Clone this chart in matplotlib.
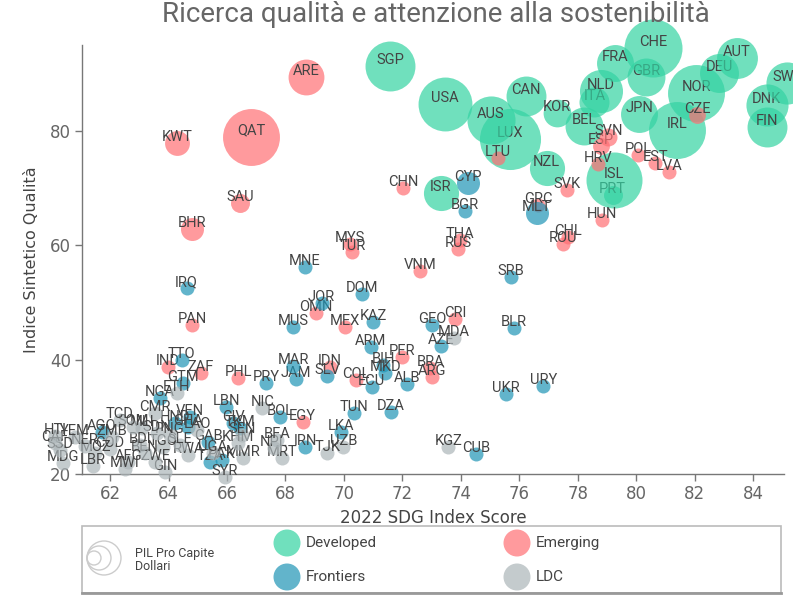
import matplotlib
matplotlib.use('Agg')
import matplotlib.pyplot as plt
from matplotlib.patches import Rectangle, Ellipse
import numpy as np

# ---------------- data ----------------
dev_codes = ['PRT', 'ISL', 'ITA', 'NLD', 'GBR', 'CHE', 'FRA', 'LUX', 'AUS', 'USA', 'CAN', 'SGP',
             'ISR', 'NZL', 'KOR', 'BEL', 'JPN', 'IRL', 'NOR', 'DEU', 'AUT', 'DNK', 'FIN', 'SWE']
dev_sdg = [79.2, 79.24, 78.57, 78.8, 80.34, 80.57, 79.28, 75.68, 75.03, 73.46, 76.23, 71.58,
           73.32, 76.94, 77.28, 78.22, 80.11, 81.41, 82.05, 82.85, 83.44, 84.47, 84.47, 85.16]
dev_quality = [68.8, 71.43, 85.12, 87.0, 89.39, 94.46, 91.84, 78.54, 81.92, 84.72, 86.12, 91.37,
               69.15, 73.47, 83.23, 80.87, 82.92, 80.17, 86.7, 90.2, 92.71, 84.54, 80.75, 88.39]
dev_gdp = [14, 122, 35, 72, 56, 131, 53, 145, 90, 113, 62, 97,
           48, 48, 30, 56, 53, 126, 126, 59, 65, 69, 62, 69]

emg_codes = ['ESP', 'SVN', 'CZE', 'HRV', 'POL', 'EST', 'LVA', 'SVK', 'HUN', 'LTU', 'GRC', 'CHL',
             'ROU', 'THA', 'RUS', 'CHN', 'VNM', 'MYS', 'TUR', 'CRI', 'OMN', 'MEX', 'PER', 'BRA',
             'ARG', 'COL', 'IDN', 'EGY', 'PHL', 'IND', 'ZAF', 'PAN', 'ARE', 'QAT', 'KWT', 'SAU', 'BHR']
emg_sdg = [78.8, 79.05, 82.09, 78.71, 80.07, 80.65, 81.13, 77.62, 78.82, 75.28, 76.64, 77.68,
           77.51, 73.97, 73.92, 72.03, 72.61, 70.21, 70.27, 73.8, 69.05, 70.04, 71.98, 72.95,
           73.03, 70.42, 69.53, 68.59, 66.39, 63.99, 65.1, 64.8, 68.71, 66.82, 64.28, 66.45, 64.82]
emg_quality = [77.37, 79.0, 82.8, 74.22, 75.8, 74.35, 72.88, 69.68, 64.43, 75.22, 67.05, 61.51,
               60.23, 60.93, 59.3, 70.08, 55.51, 60.23, 58.88, 47.06, 48.11, 45.77, 40.52, 38.49,
               37.02, 36.44, 38.77, 29.15, 36.74, 38.77, 37.61, 46.06, 89.5, 79.0, 77.95, 67.46, 62.85]
emg_gdp = [11, 12.6, 11, 7, 7, 7, 7, 7, 7, 7, 7, 7,
           7, 7, 7, 6, 6, 6, 6, 6, 6, 6, 6, 6,
           6, 6, 6, 6, 6, 6, 6, 6, 50, 126, 24, 14, 20.6]

frn_codes = ['CYP', 'MLT', 'BGR', 'SRB', 'BLR', 'GEO', 'MNE', 'DOM', 'JOR', 'MUS', 'KAZ', 'ARM',
             'BIH', 'MKD', 'ECU', 'ALB', 'AZE', 'UKR', 'URY', 'CUB', 'DZA', 'TUN', 'LKA', 'IRN',
             'BOL', 'JAM', 'MAR', 'SLV', 'PRY', 'IRQ', 'TTO', 'GTM', 'NGA', 'VEN', 'LBN', 'CIV',
             'TKM', 'AGO', 'HND', 'GHA', 'GAB', 'PAK', 'TZA']
frn_sdg = [74.26, 76.6, 74.15, 75.72, 75.82, 73.01, 68.67, 70.61, 69.24, 68.27, 71.01, 70.92,
           71.35, 71.41, 70.95, 72.17, 73.31, 75.54, 76.82, 74.52, 71.6, 70.35, 69.89, 68.67,
           67.82, 68.35, 68.27, 69.43, 67.34, 64.62, 64.45, 64.51, 63.71, 64.74, 65.97, 66.22,
           66.45, 61.72, 64.22, 64.67, 65.35, 65.83, 65.42]
frn_quality = [70.85, 65.6, 66.0, 54.51, 45.49, 46.06, 56.15, 51.49, 49.86, 45.77, 46.64, 42.27,
               39.07, 37.61, 35.27, 35.74, 42.44, 34.0, 35.39, 23.5, 30.9, 30.62, 27.4, 24.67,
               30.02, 36.62, 38.89, 37.14, 35.87, 52.48, 39.94, 35.87, 33.24, 30.02, 31.72, 28.87,
               28.0, 27.4, 28.9, 28.2, 25.6, 22.4, 22.15]
frn_gdp = [20.6, 20.6] + [7] * 41

ldc_codes = ['MDA', 'KGZ', 'UZB', 'TJK', 'NIC', 'MRT', 'NPL', 'BFA', 'MMR', 'SYR', 'ETH', 'CMR',
             'KHM', 'SEN', 'LAO', 'UGA', 'RWA', 'SLE', 'TGO', 'PNG', 'GIN', 'SDN', 'ZWE', 'BEN',
             'MLI', 'BDI', 'AFG', 'SOM', 'MWI', 'TCD', 'COD', 'ZMB', 'MOZ', 'LBR', 'NER', 'YEM',
             'MDG', 'SSD', 'CAF', 'HTI']
ldc_sdg = [73.77, 73.57, 69.98, 69.43, 67.21, 67.87, 67.61, 67.71, 66.56, 65.93, 64.28, 63.54,
           66.38, 66.52, 64.98, 65.52, 64.67, 64.4, 63.81, 64.05, 63.88, 63.61, 63.54, 63.2,
           63.09, 63.03, 62.62, 62.79, 62.51, 62.34, 62.0, 62.07, 61.49, 61.42, 61.14, 60.8,
           60.39, 60.29, 60.12, 60.12]
ldc_quality = [43.74, 24.78, 24.78, 23.62, 31.49, 22.75, 24.55, 25.95, 22.75, 19.5, 34.12, 30.67,
               25.4, 26.8, 27.7, 23.7, 23.3, 25.1, 24.7, 26.8, 20.35, 27.2, 22.1, 23.7,
               28.0, 25.1, 22.1, 28.2, 20.9, 29.45, 24.4, 26.5, 23.7, 21.4, 24.9, 26.5,
               21.9, 24.2, 25.4, 26.65]
ldc_gdp = [5] * 40

categories = ['Developed', 'Emerging', 'Frontiers', 'LDC']
x_ticks = [62, 64, 66, 68, 70, 72, 74, 76, 78, 80, 82, 84]
y_ticks = [20, 40, 60, 80]

# ---------------- style ----------------
W, H = 793, 601
colors = {'Developed': '#33D3A2', 'Emerging': '#FF6F74', 'Frontiers': '#1F95B6', 'LDC': '#ACB5B8'}
ALPHA = 0.7
TXT = '#444444'
LBL_FONT = 'Roboto'


def diam_px(g):
    return max(14.0, 5.07 * np.sqrt(g))


def px2pt2(d):
    return (d * 0.72) ** 2


fig = plt.figure(figsize=(W / 100, H / 100), dpi=100)
ax = fig.add_axes([82 / W, 1 - 474 / H, (784 - 82) / W, (474 - 45) / H])
ax.set_xlim(61.04, 85.06)
ax.set_ylim(20, 95.04)

series = [
    ('Developed', dev_codes, dev_sdg, dev_quality, dev_gdp),
    ('Emerging', emg_codes, emg_sdg, emg_quality, emg_gdp),
    ('Frontiers', frn_codes, frn_sdg, frn_quality, frn_gdp),
    ('LDC', ldc_codes, ldc_sdg, ldc_quality, ldc_gdp),
]
z = 3
for name, codes, xs, ys, gs in series:
    for c, x, y, g in zip(codes, xs, ys, gs):
        ax.scatter([x], [y], s=px2pt2(diam_px(g)), color=colors[name], alpha=ALPHA,
                   linewidths=0, zorder=z, clip_on=False)
        ax.annotate(c, (x, y), xytext=(0, 4.3), textcoords='offset points', ha='center',
                    va='center', fontsize=10.5, color=TXT, family=LBL_FONT, zorder=z + 0.5,
                    annotation_clip=False)
        z += 1

for s in ['top', 'right']:
    ax.spines[s].set_visible(False)
for s in ['left', 'bottom']:
    ax.spines[s].set_color('#777777')
    ax.spines[s].set_linewidth(1.0)
ax.set_xticks(x_ticks)
ax.set_yticks(y_ticks)
ax.tick_params(axis='both', colors='#777777', labelsize=12, length=5, width=1, pad=3,
               labelcolor='#666666')
ax.set_xlabel('2022 SDG Index Score', fontsize=12, color=TXT, labelpad=4)
ax.set_ylabel('Indice Sintetico Qualità', fontsize=11.5, color=TXT, labelpad=8)

fig.text(436 / W, 1 - 15 / H, 'Ricerca qualità e attenzione alla sostenibilità', ha='center',
         va='center', fontsize=20, color='#666666', family='Roboto')

# ---------------- legend ----------------
def fx(px):
    return px / W


def fy(py):
    return 1 - py / H


fig.patches.append(Rectangle((fx(82), fy(593)), (781 - 82) / W, (593 - 526) / H,
                             transform=fig.transFigure, facecolor='white',
                             edgecolor='#bbbbbb', lw=1.2, zorder=0))
fig.lines.append(plt.Line2D([fx(82), fx(781)], [fy(593), fy(593)], transform=fig.transFigure,
                            color='#999999', lw=2))
for r in [17, 12, 7]:
    cx = 87 + r
    fig.patches.append(Ellipse((fx(cx), fy(558)), 2 * r / W, 2 * r / H,
                               transform=fig.transFigure, facecolor='none',
                               edgecolor='#cccccc', lw=1))
fig.text(fx(135), fy(553), 'PIL Pro Capite', fontsize=9, color=TXT, family='Roboto',
         va='center', ha='left')
fig.text(fx(135), fy(567), 'Dollari', fontsize=9, color=TXT, family='Roboto',
         va='center', ha='left')

leg_pos = {'Developed': (287, 543), 'Emerging': (517, 543), 'Frontiers': (287, 577),
           'LDC': (517, 577)}
for name in categories:
    cx, cy = leg_pos[name]
    fig.patches.append(Ellipse((fx(cx), fy(cy)), 27 / W, 27 / H,
                               transform=fig.transFigure,
                               facecolor=colors[name], alpha=ALPHA,
                               edgecolor='none'))
    fig.text(fx(cx + 19), fy(cy), name, fontsize=11, color=TXT, family='Roboto',
             va='center', ha='left')

fig.savefig('out.png', dpi=100)
